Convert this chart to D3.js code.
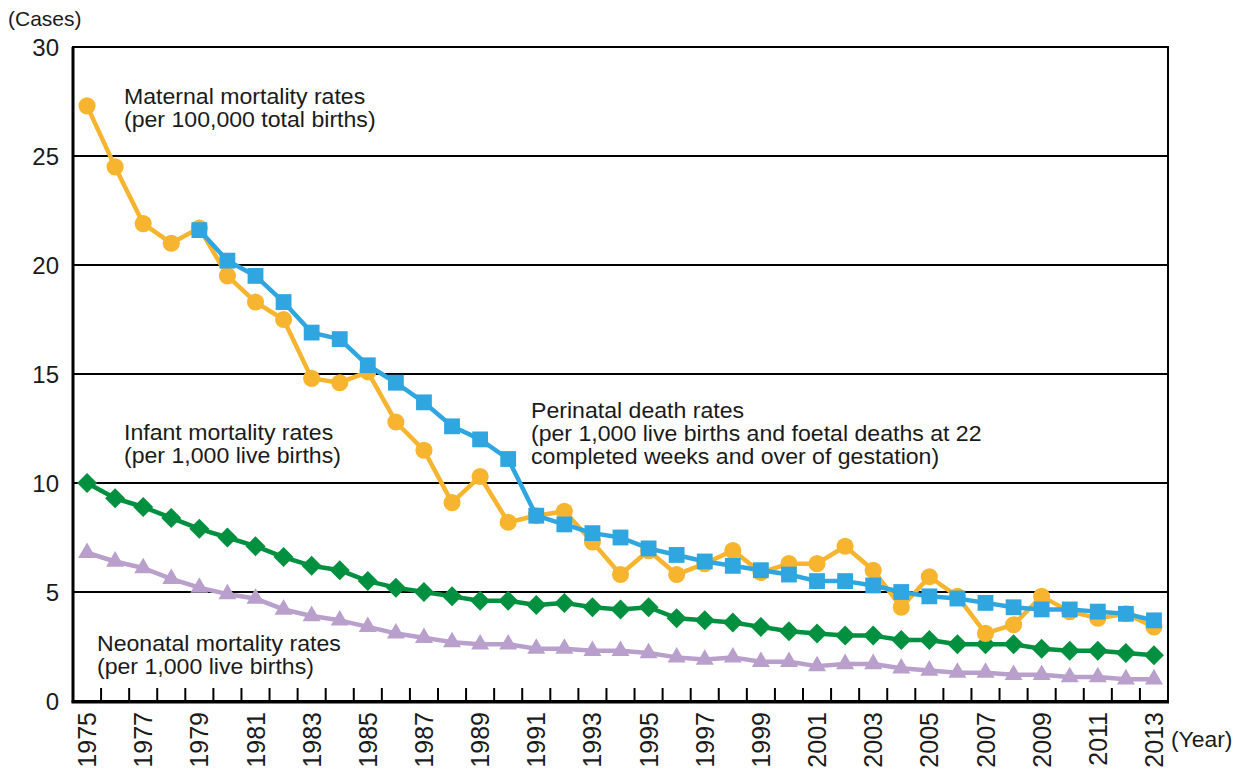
<!DOCTYPE html>
<html>
<head>
<meta charset="utf-8">
<script src="https://cdn.jsdelivr.net/npm/d3@7"></script>
<style>
  body { margin: 0; background: #fff; }
  text { font-family: "Liberation Sans", Arial, Helvetica, sans-serif; fill: #1a1a1a; }
</style>
</head>
<body>
<svg id="chart" width="1242" height="773"></svg>
<script>
const years = d3.range(1975, 2014);
const yTicks = [0, 5, 10, 15, 20, 25, 30];

// Maternal mortality rates (per 100,000 total births), 1975-2013
const maternal = [27.3, 24.5, 21.9, 21.0, 21.7, 19.5, 18.3, 17.5, 14.8, 14.6,
  15.1, 12.8, 11.5, 9.1, 10.3, 8.2, 8.5, 8.7, 7.3, 5.8,
  6.9, 5.8, 6.3, 6.9, 5.9, 6.3, 6.3, 7.1, 6.0, 4.3,
  5.7, 4.8, 3.1, 3.5, 4.8, 4.1, 3.8, 4.0, 3.4];
// Perinatal death rates, 1979-2013
const perinatalYears = d3.range(1979, 2014);
const perinatal = [21.6, 20.2, 19.5, 18.3, 16.9, 16.6, 15.4, 14.6, 13.7, 12.6,
  12.0, 11.1, 8.5, 8.1, 7.7, 7.5, 7.0, 6.7, 6.4, 6.2,
  6.0, 5.8, 5.5, 5.5, 5.3, 5.0, 4.8, 4.7, 4.5, 4.3,
  4.2, 4.2, 4.1, 4.0, 3.7];
// Infant mortality rates (per 1,000 live births)
const infant = [10.0, 9.3, 8.9, 8.4, 7.9, 7.5, 7.1, 6.6, 6.2, 6.0,
  5.5, 5.2, 5.0, 4.8, 4.6, 4.6, 4.4, 4.5, 4.3, 4.2,
  4.3, 3.8, 3.7, 3.6, 3.4, 3.2, 3.1, 3.0, 3.0, 2.8,
  2.8, 2.6, 2.6, 2.6, 2.4, 2.3, 2.3, 2.2, 2.1];
// Neonatal mortality rates (per 1,000 live births)
const neonatal = [6.8, 6.4, 6.1, 5.6, 5.2, 4.9, 4.7, 4.2, 3.9, 3.7,
  3.4, 3.1, 2.9, 2.7, 2.6, 2.6, 2.4, 2.4, 2.3, 2.3,
  2.2, 2.0, 1.9, 2.0, 1.8, 1.8, 1.6, 1.7, 1.7, 1.5,
  1.4, 1.3, 1.3, 1.2, 1.2, 1.1, 1.1, 1.0, 1.0];

const colors = { maternal: "#F7B52F", perinatal: "#2FA6DF", infant: "#00903F", neonatal: "#B9A0CC" };

const svg = d3.select("#chart");
const pLeft = 73, pRight = 1168, pTop = 47, pBottom = 701;

const x = d3.scaleBand().domain(years).range([pLeft, pRight]).paddingInner(0).paddingOuter(0);
const xc = yr => x(yr) + x.bandwidth() / 2;
const y = d3.scaleLinear().domain([0, 30]).range([pBottom, pTop]);

// gridlines
svg.append("g").selectAll("line").data(yTicks.filter(t => t > 0 && t < 30)).join("line")
  .attr("x1", pLeft).attr("x2", pRight).attr("y1", d => y(d)).attr("y2", d => y(d))
  .attr("stroke", "#000").attr("stroke-width", 2);

// frame
svg.append("rect").attr("x", pLeft).attr("y", pTop).attr("width", pRight - pLeft).attr("height", pBottom - pTop)
  .attr("fill", "none").attr("stroke", "#000").attr("stroke-width", 2);
svg.append("line").attr("x1", pLeft).attr("x2", pLeft).attr("y1", pTop).attr("y2", pBottom + 1.5)
  .attr("stroke", "#000").attr("stroke-width", 3);
svg.append("line").attr("x1", pLeft - 1.5).attr("x2", pRight + 1).attr("y1", pBottom + 1).attr("y2", pBottom + 1)
  .attr("stroke", "#000").attr("stroke-width", 3);

// x ticks (inward, at year boundaries)
svg.append("g").selectAll("line").data(years.slice(1)).join("line")
  .attr("x1", d => x(d)).attr("x2", d => x(d))
  .attr("y1", pBottom).attr("y2", pBottom - 13)
  .attr("stroke", "#000").attr("stroke-width", 2);

// y labels
svg.append("g").selectAll("text").data(yTicks).join("text")
  .attr("x", 59).attr("y", d => y(d) + 9)
  .attr("text-anchor", "end").style("font-size", "24px")
  .text(d => d);

// x labels
svg.append("g").selectAll("text").data(years.filter(d => d % 2 === 1)).join("text")
  .attr("transform", d => `translate(${xc(d) + 9},712) rotate(-90)`)
  .attr("text-anchor", "end").style("font-size", "25px")
  .text(d => d);

svg.append("text").attr("x", 8).attr("y", 26).style("font-size", "21px").text("(Cases)");
svg.append("text").attr("transform", "translate(1171,747) scale(1.04,1)").style("font-size", "22px").text("(Year)");

// series
function drawSeries(xs, vals, color, shape, size, rot) {
  const line = d3.line().x((d, i) => xc(xs[i])).y(d => y(d));
  const g = svg.append("g");
  g.append("path").datum(vals).attr("d", line).attr("fill", "none")
    .attr("stroke", color).attr("stroke-width", 4.5).attr("stroke-linejoin", "round");
  g.selectAll("path.m").data(vals).join("path").attr("class", "m")
    .attr("d", d3.symbol().type(shape).size(size))
    .attr("transform", (d, i) => `translate(${xc(xs[i])},${y(d)}) rotate(${rot || 0})`)
    .attr("fill", color);
}

drawSeries(years, neonatal, colors.neonatal, d3.symbolTriangle, 140);
drawSeries(years, infant, colors.infant, d3.symbolSquare, 200, 45);
drawSeries(years, maternal, colors.maternal, d3.symbolCircle, 230);
drawSeries(perinatalYears, perinatal, colors.perinatal, d3.symbolSquare, 250);

// annotations
function label(xp, yp, lines) {
  const t = svg.append("text").attr("transform", `translate(${xp},${yp}) scale(1.05,1)`).style("font-size", "22px");
  lines.forEach((l, i) => t.append("tspan").attr("x", 0).attr("dy", i === 0 ? 0 : 23).text(l));
}
label(124, 104, ["Maternal mortality rates", "(per 100,000 total births)"]);
label(124, 440, ["Infant mortality rates", "(per 1,000 live births)"]);
label(531, 418, ["Perinatal death rates", "(per 1,000 live births and foetal deaths at 22", "completed weeks and over of gestation)"]);
label(97, 651, ["Neonatal mortality rates", "(per 1,000 live births)"]);
</script>
</body>
</html>
